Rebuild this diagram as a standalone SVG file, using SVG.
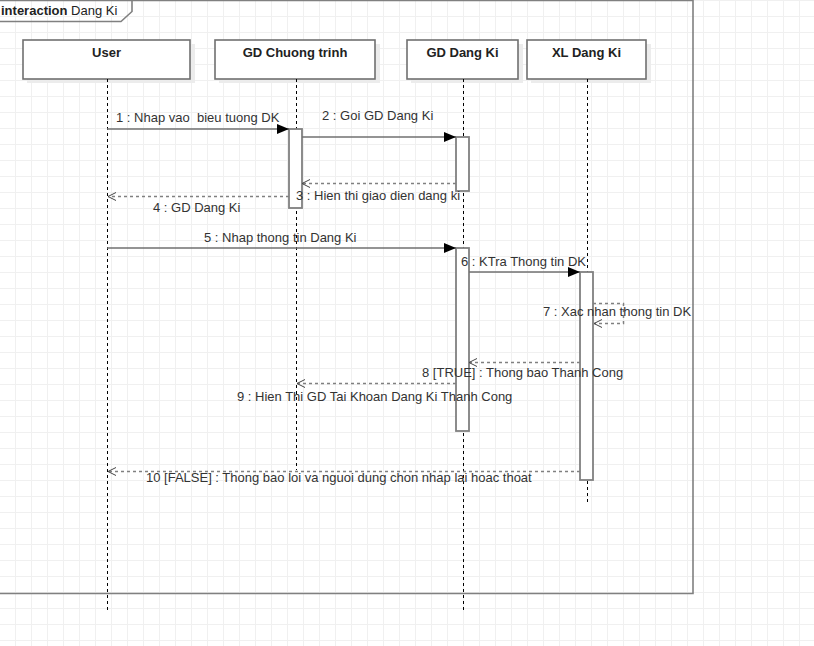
<svg xmlns="http://www.w3.org/2000/svg" width="814" height="646" viewBox="0 0 814 646">
  <defs>
    <pattern id="grid" x="0" y="0" width="16" height="16" patternUnits="userSpaceOnUse">
      <path d="M15.5 0V16M0 0.5H16" stroke="#f0f0f0" stroke-width="1" fill="none"/>
    </pattern>
    <marker id="filled" viewBox="0 0 12 10" refX="12" refY="5" markerWidth="12" markerHeight="10" markerUnits="userSpaceOnUse" orient="auto">
      <path d="M0 0L12 5L0 10Z" fill="#000"/>
    </marker>
    <marker id="open" viewBox="0 0 10 10" refX="9" refY="5" markerWidth="10" markerHeight="10" markerUnits="userSpaceOnUse" orient="auto">
      <path d="M1 1L9 5L1 9" fill="none" stroke="#444" stroke-width="1"/>
    </marker>
  </defs>
  <style>
    .frame { fill: none; stroke: #808080; stroke-width: 1.6; }
    .head { fill: #fff; stroke: #707070; stroke-width: 1.6; }
    .shadow { fill: #ececec; }
    .title { font-family: "Liberation Sans", Arial, sans-serif; font-size: 13px; font-weight: bold; fill: #222; text-anchor: middle; }
    .life { stroke: #000; stroke-width: 1; stroke-dasharray: 3 3; fill: none; }
    .act { fill: #fff; stroke: #808080; stroke-width: 1.8; }
    .call { stroke: #707070; stroke-width: 1.6; fill: none; marker-end: url(#filled); }
    .ret { stroke: #808080; stroke-width: 1.5; stroke-dasharray: 3 3; fill: none; }
    .lbl { font-family: "Liberation Sans", Arial, sans-serif; font-size: 13px; fill: #333; }
  </style>

  <rect width="814" height="646" fill="#fff"/>
  <rect width="814" height="646" fill="url(#grid)"/>

  <!-- interaction frame -->
  <g id="frame">
    <path class="frame" d="M-2 0.5H693V593.5H-2"/>
    <path class="frame" d="M-2 21.5H121L132 11.5V0"/>
    <text x="1" y="15" font-family="Liberation Sans, Arial, sans-serif" font-size="13px" fill="#222"><tspan font-weight="bold">interaction</tspan> Dang Ki</text>
  </g>

  <!-- lifelines -->
  <g id="user">
    <rect class="shadow" x="27" y="44" width="168" height="39"/>
    <rect class="head" x="23" y="40" width="167" height="39"/>
    <text class="title" x="106.5" y="57">User</text>
    <line class="life" x1="107.5" y1="79" x2="107.5" y2="611"/>
  </g>
  <g id="gd-chuong-trinh">
    <rect class="shadow" x="219" y="44" width="161" height="39"/>
    <rect class="head" x="215" y="40" width="160" height="39"/>
    <text class="title" x="295" y="57">GD Chuong trinh</text>
    <line class="life" x1="296.5" y1="79" x2="296.5" y2="470"/>
  </g>
  <g id="gd-dang-ki">
    <rect class="shadow" x="411" y="44" width="112" height="39"/>
    <rect class="head" x="407" y="40" width="111" height="39"/>
    <text class="title" x="462.5" y="57">GD Dang Ki</text>
    <line class="life" x1="463.5" y1="79" x2="463.5" y2="611"/>
  </g>
  <g id="xl-dang-ki">
    <rect class="shadow" x="531" y="44" width="120" height="39"/>
    <rect class="head" x="527" y="40" width="119" height="39"/>
    <text class="title" x="586.5" y="57">XL Dang Ki</text>
    <line class="life" x1="587.5" y1="79" x2="587.5" y2="502"/>
  </g>

  <!-- activations -->
  <g id="activations">
    <rect class="act" x="289" y="129" width="13" height="79"/>
    <rect class="act" x="456" y="137" width="13" height="54"/>
    <rect class="act" x="456" y="248" width="13" height="183"/>
    <rect class="act" x="580" y="272" width="13" height="208"/>
  </g>

  <!-- messages -->
  <g id="connectors">
    <line class="call" x1="107" y1="129" x2="289" y2="129"/>
    <line class="call" x1="302" y1="137" x2="456" y2="137"/>
    <line class="ret" x1="456" y1="183.5" x2="302" y2="183.5" marker-end="url(#open)"/>
    <line class="ret" x1="289" y1="196.5" x2="108" y2="196.5" marker-end="url(#open)"/>
    <line class="call" x1="107" y1="248" x2="456" y2="248"/>
    <line class="call" x1="469" y1="272" x2="580" y2="272"/>
    <path class="ret" d="M593 303.5H623.5V323.5H594" marker-end="url(#open)"/>
    <line class="ret" x1="580" y1="362.5" x2="469" y2="362.5" marker-end="url(#open)"/>
    <line class="ret" x1="456" y1="383.5" x2="297" y2="383.5" marker-end="url(#open)"/>
    <line class="ret" x1="580" y1="471.5" x2="108" y2="471.5" marker-end="url(#open)"/>
  </g>

  <!-- message labels -->
  <g id="labels">
    <text class="lbl" x="116" y="122" xml:space="preserve">1 : Nhap vao  bieu tuong DK</text>
    <text class="lbl" x="322" y="120">2 : Goi GD Dang Ki</text>
    <text class="lbl" x="296" y="200">3 : Hien thi giao dien dang ki</text>
    <text class="lbl" x="153" y="212">4 : GD Dang Ki</text>
    <text class="lbl" x="204" y="242">5 : Nhap thong tin Dang Ki</text>
    <text class="lbl" x="461" y="266">6 : KTra Thong tin DK</text>
    <text class="lbl" x="543" y="316">7 : Xac nhan thong tin DK</text>
    <text class="lbl" x="422" y="377">8 [TRUE] : Thong bao Thanh Cong</text>
    <text class="lbl" x="237" y="401">9 : Hien Thi GD Tai Khoan Dang Ki Thanh Cong</text>
    <text class="lbl" x="146" y="482">10 [FALSE] : Thong bao loi va nguoi dung chon nhap lai hoac thoat</text>
  </g>
</svg>
